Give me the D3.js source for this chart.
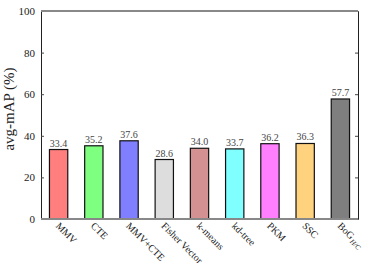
<!DOCTYPE html>
<html>
<head>
<script src="https://d3js.org/d3.v7.min.js"></script>
<style>
body { margin: 0; background: #fff; }
svg text { font-family: "Liberation Serif", "DejaVu Serif", serif; }
</style>
</head>
<body>
<svg width="374" height="263"></svg>
<script>
const methods = ["MMV", "CTE", "MMV+CTE", "Fisher Vector", "k-means", "kd-tree", "PKM", "SSC", "BoG"];
const scores = [33.4, 35.2, 37.6, 28.6, 34.0, 33.7, 36.2, 36.3, 57.7];
const colors = ["#ff7f7f", "#7fff7f", "#7f7fff", "#dddddd", "#d39191", "#7fffff", "#ff7fff", "#ffd27f", "#7f7f7f"];
const yTicks = [0, 20, 40, 60, 80, 100];

const svg = d3.select("svg");
const margin = { top: 11, right: 16, bottom: 44, left: 41 };
const width = +svg.attr("width") - margin.left - margin.right;
const height = +svg.attr("height") - margin.top - margin.bottom;

const g = svg.append("g")
  .attr("transform", `translate(${margin.left},${margin.top})`);

const x = d3.scaleBand()
  .domain(methods)
  .range([0, width])
  .paddingInner(0.48)
  .paddingOuter(0.24);

const y = d3.scaleLinear()
  .domain([0, 100])
  .range([height, 0]);

// left axis, ticks pointing inwards
const yAxis = g.append("g")
  .call(d3.axisLeft(y).tickValues(yTicks).tickSize(-3).tickPadding(6));
yAxis.select(".domain").attr("stroke", "#222");
yAxis.selectAll("line").attr("stroke", "#444");
yAxis.selectAll("text").attr("font-size", 11).attr("fill", "#222")
  .attr("font-family", "Liberation Serif");

// right axis
const yAxisR = g.append("g")
  .attr("transform", `translate(${width},0)`)
  .call(d3.axisRight(y).tickValues(yTicks).tickSize(-3).tickFormat(""));
yAxisR.select(".domain").attr("stroke", "#222");
yAxisR.selectAll("line").attr("stroke", "#444");

// top frame line
g.append("line")
  .attr("x1", 0).attr("x2", width)
  .attr("y1", y(100)).attr("y2", y(100))
  .attr("stroke", "#888").attr("stroke-width", 2);

// bars
g.selectAll(".bar")
  .data(methods)
  .enter()
  .append("rect")
  .attr("class", "bar")
  .attr("x", (d) => x(d))
  .attr("y", (d, i) => y(scores[i]))
  .attr("width", x.bandwidth())
  .attr("height", (d, i) => y(0) - y(scores[i]))
  .attr("fill", (d, i) => colors[i])
  .attr("stroke", "#111")
  .attr("stroke-width", 1.2);

// value labels
g.selectAll(".val")
  .data(methods)
  .enter()
  .append("text")
  .attr("class", "val")
  .attr("x", (d) => x(d) + x.bandwidth() / 2)
  .attr("y", (d, i) => y(scores[i]) - 3)
  .attr("text-anchor", "middle")
  .attr("font-size", 10)
  .attr("fill", "#444")
  .text((d, i) => scores[i].toFixed(1));

// bottom axis line
g.append("line")
  .attr("x1", 0).attr("x2", width)
  .attr("y1", y(0)).attr("y2", y(0))
  .attr("stroke", "#888").attr("stroke-width", 2);

// rotated category labels
const lab = g.selectAll(".lab")
  .data(methods)
  .enter()
  .append("text")
  .attr("class", "lab")
  .attr("transform", (d) => `translate(${x(d) + x.bandwidth() / 2 - 1},${y(0) + 5}) rotate(45)`)
  .attr("font-size", 10)
  .attr("fill", "#222")
  .attr("dy", "0.35em")
  .text((d) => d);

lab.filter((d) => d === "BoG")
  .append("tspan")
  .attr("font-size", 7)
  .attr("font-style", "italic")
  .attr("dx", 1)
  .attr("dy", 2)
  .text("H/C");

// y title
svg.append("text")
  .attr("transform", `translate(14,109) rotate(-90)`)
  .attr("text-anchor", "middle")
  .attr("font-size", 15)
  .attr("fill", "#222")
  .text("avg-mAP (%)");
</script>
</body>
</html>
